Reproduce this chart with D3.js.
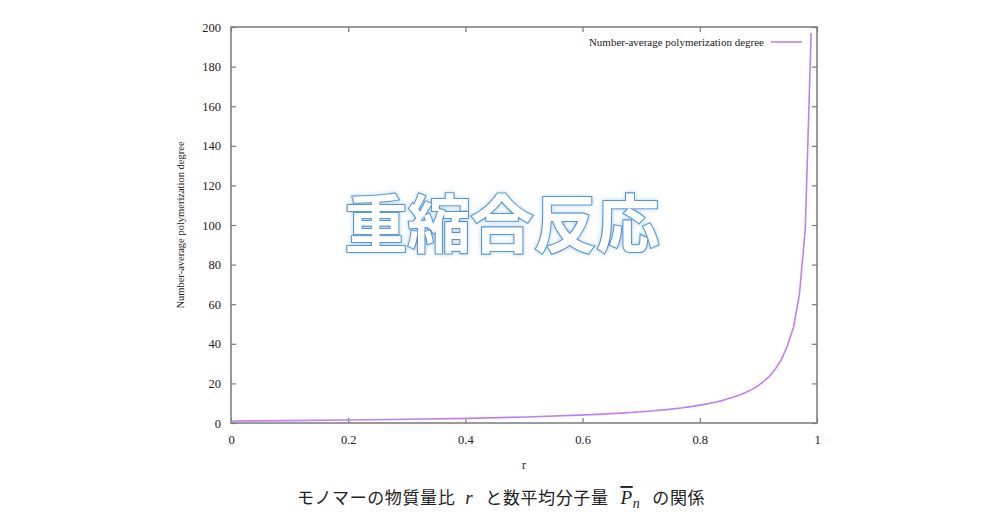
<!DOCTYPE html>
<html>
<head>
<meta charset="utf-8">
<script src="https://cdn.jsdelivr.net/npm/d3@7"></script>
<style>
  body { margin: 0; background: #fff; }
  svg { display: block; }
</style>
</head>
<body>
<div id="chart"></div>
<script>
// values (gnuplot-like sampling, r in [0,1))
var rValues  = [0, 0.101, 0.202, 0.303, 0.404, 0.505, 0.606, 0.667, 0.707, 0.747, 0.768, 0.788, 0.808, 0.828, 0.838, 0.848, 0.859, 0.869, 0.879, 0.889, 0.899, 0.909, 0.919, 0.929, 0.939, 0.949, 0.960, 0.970, 0.980, 0.990];
var pnValues = [1, 1.22, 1.51, 1.87, 2.36, 3.04, 4.08, 5.0, 5.83, 6.9, 7.61, 8.4, 9.42, 10.6, 11.3, 12.2, 13.2, 14.3, 15.5, 17.0, 18.8, 21.0, 23.7, 27.3, 31.9, 38.6, 48.5, 65.0, 98.0, 197.0];
var xTicks = [0, 0.2, 0.4, 0.6, 0.8, 1];
var yTicks = [0, 20, 40, 60, 80, 100, 120, 140, 160, 180, 200];
var seriesName = "Number-average polymerization degree";
var xLabel = "r";
var yLabel = "Number-average polymerization degree";
var watermark = "重縮合反応";

var W = 1004, H = 525;
var margin = {left: 231, right: W - 817, top: 27, bottom: H - 423};

var svg = d3.select("#chart").append("svg")
    .attr("width", W)
    .attr("height", H);

var x = d3.scaleLinear().domain([0, 1]).range([margin.left, W - margin.right]);
var y = d3.scaleLinear().domain([0, 200]).range([H - margin.bottom, margin.top]);

var serif = "'Liberation Serif', 'DejaVu Serif', serif";
var frameColor = "#7a7a7a";
var lineColor = "#c27ff0";

// axes (gnuplot style: ticks inside, mirrored)
var tickLen = 5;
var xAxisB = d3.axisBottom(x).tickValues(xTicks).tickSize(-tickLen).tickPadding(12).tickFormat(d3.format("~g"));
var xAxisT = d3.axisTop(x).tickValues(xTicks).tickSize(-tickLen).tickFormat("");
var yAxisL = d3.axisLeft(y).tickValues(yTicks).tickSize(-tickLen).tickPadding(10);
var yAxisR = d3.axisRight(y).tickValues(yTicks).tickSize(-tickLen).tickFormat("");

function styleAxis(g) {
    g.select(".domain").remove();
    g.selectAll(".tick line").attr("stroke", frameColor).attr("stroke-width", 1.2);
    g.selectAll(".tick text").attr("fill", "#222").style("font-family", serif).style("font-size", "12.5px");
}

svg.append("g").attr("transform", "translate(0," + y(0) + ")").call(xAxisB).call(styleAxis);
svg.append("g").attr("transform", "translate(0," + y(200) + ")").call(xAxisT).call(styleAxis);
svg.append("g").attr("transform", "translate(" + x(0) + ",0)").call(yAxisL).call(styleAxis);
svg.append("g").attr("transform", "translate(" + x(1) + ",0)").call(yAxisR).call(styleAxis);

// frame
svg.append("rect")
    .attr("x", x(0)).attr("y", y(200))
    .attr("width", x(1) - x(0)).attr("height", y(0) - y(200))
    .attr("fill", "none")
    .attr("stroke", frameColor)
    .attr("stroke-width", 1.5);

// curve
var pts = rValues.map(function(r, i) { return [r, pnValues[i]]; });
var line = d3.line().x(function(d) { return x(d[0]); }).y(function(d) { return y(d[1]); });
svg.append("path")
    .datum(pts)
    .attr("d", line)
    .attr("fill", "none")
    .attr("stroke", lineColor)
    .attr("stroke-width", 1.6);

// legend
var legY = y(200) + 15;
svg.append("text")
    .attr("x", 764).attr("y", legY + 4)
    .attr("text-anchor", "end")
    .style("font-family", serif).style("font-size", "11px")
    .attr("fill", "#222")
    .text(seriesName);
svg.append("line")
    .attr("x1", 771).attr("x2", 802)
    .attr("y1", legY).attr("y2", legY)
    .attr("stroke", lineColor).attr("stroke-width", 1.6);

// axis labels
svg.append("text")
    .attr("x", (x(0) + x(1)) / 2).attr("y", 469)
    .attr("text-anchor", "middle")
    .style("font-family", serif).style("font-size", "12px")
    .attr("fill", "#222")
    .text(xLabel);
svg.append("text")
    .attr("transform", "translate(184," + ((y(0) + y(200)) / 2) + ") rotate(-90)")
    .attr("text-anchor", "middle")
    .style("font-family", serif).style("font-size", "10.5px")
    .attr("fill", "#222")
    .text(yLabel);

// caption
var cap = svg.append("text")
    .attr("x", 501).attr("y", 504)
    .attr("text-anchor", "middle")
    .style("font-family", "'Noto Sans CJK JP', sans-serif")
    .style("font-size", "17px")
    .style("letter-spacing", "0.6px")
    .attr("fill", "#222");
cap.append("tspan").text("モノマーの物質量比");
cap.append("tspan").attr("dx", 10).style("font-family", serif).style("font-style", "italic").style("font-size", "19px").text("r");
cap.append("tspan").attr("dx", 12).text("と数平均分子量");
cap.append("tspan").attr("dx", 12).style("font-family", serif).style("font-style", "italic").style("font-size", "19px")
    .style("text-decoration", "overline").text("P");
cap.append("tspan").style("font-family", serif).style("font-style", "italic").style("font-size", "14px")
    .attr("dy", 4).text("n");
cap.append("tspan").attr("dy", -4).attr("dx", 12).text("の関係");

// watermark title
var defs = svg.append("defs");
var glow = defs.append("filter").attr("id", "glow").attr("x", "-20%").attr("y", "-40%").attr("width", "140%").attr("height", "180%");
glow.append("feGaussianBlur").attr("in", "SourceAlpha").attr("stdDeviation", 2.2).attr("result", "b");
glow.append("feFlood").attr("flood-color", "#7fb2e0").attr("flood-opacity", 0.6);
glow.append("feComposite").attr("in2", "b").attr("operator", "in").attr("result", "g");
var merge = glow.append("feMerge");
merge.append("feMergeNode").attr("in", "g");
merge.append("feMergeNode").attr("in", "SourceGraphic");

svg.append("text")
    .attr("x", 502).attr("y", 247)
    .attr("text-anchor", "middle")
    .style("font-family", "'Noto Sans CJK JP', sans-serif")
    .style("font-weight", 700)
    .style("font-size", "63px")
    .attr("fill", "#ffffff")
    .attr("stroke", "#5b96d3")
    .attr("stroke-width", 2.2)
    .attr("paint-order", "stroke")
    .attr("filter", "url(#glow)")
    .text(watermark);
</script>
</body>
</html>
